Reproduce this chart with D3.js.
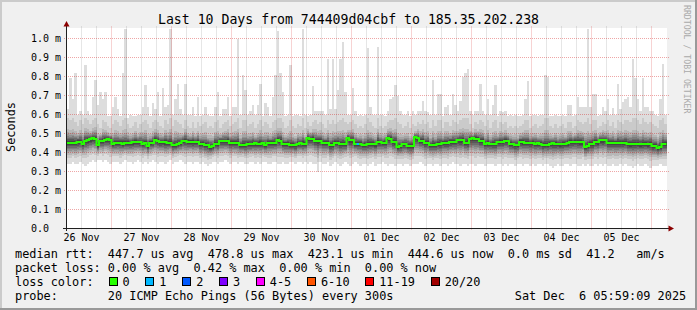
<!DOCTYPE html>
<html lang="en">
<head>
<meta charset="utf-8">
<title>SmokePing: Last 10 Days</title>
<script src="https://d3js.org/d3.v7.min.js"></script>
<style>
  body { margin: 0; background: #f0f0f0; }
  svg { display: block; font-family: "DejaVu Sans Mono", monospace; }
  text { white-space: pre; }
</style>
</head>
<body>
<div id="chart"></div>
<script>
// graph window and hourly buckets (UTC), rtt values in ms
var startTime = Date.UTC(2025, 10, 26, 5, 59, 9);
var endTime = Date.UTC(2025, 11, 6, 5, 59, 9);
var firstBucket = Date.UTC(2025, 10, 26, 6, 0, 0);
var HOUR = 3600e3;

// slowest ping of each bucket (the tall light spikes)
var maxRtt = [
  0.63,0.79,0.68,0.82,0.60,0.62,0.60,0.86,0.62,0.60,
  0.69,0.78,0.65,0.72,0.68,0.72,0.59,0.59,0.64,0.69,
  0.63,0.59,0.82,1.05,0.58,0.60,0.59,0.59,0.60,0.60,
  0.64,0.755,0.64,0.59,0.66,0.63,0.72,0.59,0.74,0.64,
  0.65,1.05,0.60,0.68,0.76,0.63,0.60,0.76,0.60,0.60,
  0.64,0.59,0.69,0.59,0.60,0.64,0.60,0.59,0.59,0.64,
  0.72,0.59,0.63,0.63,0.69,0.59,0.64,0.64,1.0,0.60,
  0.81,0.73,0.60,0.62,0.65,0.60,0.65,0.76,0.59,0.66,
  0.64,0.59,0.69,0.81,1.04,0.82,0.72,0.59,0.60,0.86,
  0.59,0.60,0.60,0.59,1.05,0.60,0.59,0.60,0.75,0.62,
  0.62,0.62,0.62,0.60,0.89,0.63,0.89,0.63,0.73,0.89,
  0.98,0.72,0.60,0.60,0.74,0.62,0.59,0.60,0.59,0.60,
  0.95,0.64,0.60,0.60,0.955,0.60,0.60,0.59,0.62,0.68,
  0.69,0.755,0.70,0.62,0.60,0.60,0.62,0.59,0.62,0.60,
  0.62,0.62,0.67,0.62,0.615,0.60,0.78,0.60,0.71,0.71,
  0.59,0.64,0.65,0.60,0.71,0.65,0.62,0.67,0.80,0.82,
  0.84,0.62,0.60,0.62,0.62,0.76,0.62,0.60,0.68,0.60,
  0.65,0.755,0.59,0.62,0.615,0.62,0.59,0.60,0.59,0.60,
  0.59,0.59,0.60,0.68,0.775,0.59,0.60,0.60,0.59,0.60,
  0.60,0.81,0.80,0.59,0.59,0.60,0.59,0.59,0.60,0.59,
  0.65,0.65,0.59,0.60,0.69,0.64,0.64,0.64,1.05,0.64,
  0.71,0.71,0.59,0.60,0.64,0.62,0.68,0.60,0.635,0.60,
  0.76,0.63,0.665,0.68,0.69,0.64,0.89,0.79,0.68,0.62,
  0.79,0.64,0.64,0.62,0.62,0.60,0.59,0.68,0.865,0.60
];

// second slowest ping (top of the dense smoke)
var hiRtt = [
  0.58,0.57,0.58,0.56,0.54,0.57,0.55,0.58,0.57,0.55,
  0.57,0.58,0.55,0.53,0.57,0.56,0.54,0.53,0.55,0.57,
  0.56,0.54,0.57,0.58,0.55,0.53,0.54,0.56,0.53,0.55,
  0.56,0.57,0.55,0.53,0.56,0.57,0.56,0.54,0.53,0.57,
  0.55,0.58,0.54,0.57,0.56,0.55,0.53,0.57,0.54,0.53,
  0.56,0.53,0.56,0.54,0.55,0.56,0.53,0.54,0.53,0.56,
  0.57,0.53,0.55,0.56,0.57,0.54,0.55,0.56,0.58,0.53,
  0.57,0.57,0.54,0.55,0.56,0.53,0.55,0.57,0.54,0.56,
  0.55,0.53,0.56,0.57,0.58,0.58,0.56,0.53,0.54,0.57,
  0.54,0.53,0.55,0.54,0.58,0.53,0.56,0.54,0.56,0.57,
  0.55,0.56,0.55,0.53,0.57,0.55,0.57,0.55,0.56,0.57,
  0.58,0.56,0.55,0.56,0.57,0.55,0.53,0.54,0.53,0.55,
  0.58,0.56,0.54,0.53,0.58,0.54,0.53,0.54,0.56,0.57,
  0.57,0.58,0.56,0.55,0.53,0.54,0.56,0.53,0.55,0.54,
  0.56,0.55,0.57,0.55,0.56,0.53,0.57,0.54,0.57,0.57,
  0.53,0.56,0.56,0.54,0.57,0.56,0.55,0.57,0.58,0.58,
  0.58,0.55,0.53,0.56,0.55,0.57,0.56,0.54,0.57,0.53,
  0.56,0.57,0.53,0.56,0.55,0.56,0.53,0.54,0.53,0.54,
  0.53,0.54,0.55,0.57,0.57,0.53,0.54,0.55,0.53,0.54,
  0.55,0.58,0.58,0.54,0.53,0.55,0.53,0.54,0.55,0.53,
  0.56,0.56,0.53,0.54,0.57,0.56,0.55,0.56,0.58,0.55,
  0.57,0.57,0.53,0.54,0.56,0.55,0.57,0.54,0.56,0.53,
  0.57,0.56,0.55,0.57,0.57,0.56,0.58,0.58,0.57,0.55,
  0.58,0.56,0.55,0.56,0.55,0.54,0.53,0.57,0.58,0.55
];

var medianRtt = [
  0.451,0.452,0.450,0.451,0.456,0.455,0.444,0.462,0.465,0.470,
  0.474,0.472,0.438,0.461,0.462,0.468,0.470,0.468,0.447,0.449,
  0.451,0.452,0.447,0.448,0.451,0.450,0.454,0.455,0.453,0.454,
  0.447,0.448,0.434,0.451,0.452,0.465,0.463,0.454,0.455,0.453,
  0.451,0.450,0.438,0.440,0.447,0.448,0.461,0.462,0.456,0.457,
  0.455,0.456,0.457,0.444,0.445,0.438,0.439,0.430,0.432,0.447,
  0.446,0.459,0.460,0.458,0.459,0.451,0.452,0.450,0.451,0.438,
  0.440,0.439,0.444,0.443,0.447,0.448,0.446,0.447,0.448,0.438,
  0.451,0.452,0.450,0.451,0.465,0.463,0.444,0.445,0.444,0.438,
  0.440,0.437,0.447,0.448,0.446,0.447,0.474,0.472,0.473,0.461,
  0.462,0.460,0.451,0.452,0.450,0.438,0.439,0.451,0.452,0.444,
  0.445,0.443,0.474,0.465,0.464,0.447,0.446,0.447,0.438,0.439,
  0.444,0.445,0.444,0.443,0.456,0.455,0.451,0.452,0.474,0.472,
  0.456,0.455,0.430,0.432,0.444,0.443,0.433,0.434,0.433,0.479,
  0.476,0.461,0.462,0.451,0.452,0.438,0.440,0.439,0.444,0.445,
  0.451,0.450,0.452,0.456,0.455,0.457,0.465,0.464,0.466,0.451,
  0.452,0.472,0.474,0.473,0.472,0.461,0.462,0.447,0.448,0.444,
  0.443,0.445,0.456,0.455,0.457,0.461,0.462,0.444,0.443,0.438,
  0.439,0.456,0.455,0.451,0.452,0.450,0.451,0.447,0.448,0.446,
  0.438,0.440,0.439,0.447,0.448,0.446,0.444,0.443,0.445,0.447,
  0.448,0.456,0.455,0.457,0.456,0.455,0.454,0.430,0.432,0.444,
  0.445,0.456,0.455,0.465,0.464,0.466,0.451,0.452,0.450,0.451,
  0.452,0.450,0.451,0.452,0.444,0.443,0.445,0.444,0.445,0.443,
  0.444,0.444,0.443,0.445,0.433,0.434,0.423,0.428,0.444,0.4446
];

// fastest ping (bottom of the smoke)
var minRtt = [
  0.34,0.34,0.35,0.34,0.34,0.35,0.34,0.33,0.34,0.35,
  0.36,0.35,0.36,0.36,0.35,0.36,0.35,0.34,0.35,0.35,
  0.35,0.34,0.35,0.36,0.35,0.35,0.34,0.35,0.36,0.35,
  0.34,0.35,0.34,0.35,0.36,0.35,0.34,0.35,0.35,0.34,
  0.35,0.36,0.34,0.35,0.35,0.36,0.35,0.34,0.35,0.35,
  0.34,0.35,0.35,0.34,0.35,0.34,0.33,0.34,0.35,0.35,
  0.34,0.35,0.35,0.36,0.35,0.34,0.35,0.35,0.34,0.35,
  0.35,0.34,0.34,0.35,0.35,0.34,0.35,0.34,0.35,0.35,
  0.34,0.34,0.35,0.35,0.34,0.34,0.35,0.34,0.34,0.35,
  0.35,0.34,0.35,0.35,0.34,0.35,0.34,0.35,0.34,0.34,
  0.30,0.35,0.34,0.34,0.35,0.33,0.34,0.35,0.34,0.33,
  0.34,0.35,0.34,0.33,0.34,0.35,0.34,0.33,0.34,0.34,
  0.33,0.34,0.35,0.33,0.34,0.34,0.35,0.34,0.33,0.34,
  0.34,0.33,0.34,0.34,0.33,0.34,0.34,0.33,0.34,0.34,
  0.34,0.35,0.34,0.33,0.34,0.34,0.33,0.34,0.34,0.33,
  0.34,0.34,0.33,0.34,0.35,0.34,0.34,0.33,0.34,0.34,
  0.33,0.34,0.34,0.33,0.34,0.34,0.34,0.33,0.34,0.34,
  0.34,0.33,0.34,0.34,0.33,0.34,0.33,0.34,0.34,0.33,
  0.34,0.34,0.33,0.34,0.34,0.33,0.34,0.33,0.34,0.34,
  0.33,0.34,0.34,0.33,0.32,0.33,0.34,0.33,0.33,0.34,
  0.34,0.33,0.34,0.34,0.33,0.33,0.34,0.33,0.34,0.33,
  0.33,0.34,0.33,0.34,0.33,0.34,0.33,0.33,0.34,0.33,
  0.33,0.34,0.33,0.34,0.33,0.33,0.32,0.33,0.34,0.33,
  0.33,0.34,0.33,0.32,0.33,0.33,0.33,0.34,0.33,0.33
];

// buckets where one ping was lost
var lossBuckets = [116];

var yTicks = [0, 0.1, 0.2, 0.3, 0.4, 0.5, 0.6, 0.7, 0.8, 0.9, 1.0];
var yTickLabels = ["0.0  ", "0.1 m", "0.2 m", "0.3 m", "0.4 m", "0.5 m", "0.6 m", "0.7 m", "0.8 m", "0.9 m", "1.0 m"];
var dayLabels = ["26 Nov", "27 Nov", "28 Nov", "29 Nov", "30 Nov", "01 Dec", "02 Dec", "03 Dec", "04 Dec", "05 Dec"];

var lossLabels = ["0", "1", "2", "3", "4-5", "6-10", "11-19", "20/20"];
var lossColors = ["#26ff00", "#00b8ff", "#0059ff", "#7e00ff", "#ff00ff", "#ff5500", "#ff0000", "#a10000"];

var legendLines = [
  "median rtt:  447.7 us avg  478.8 us max  423.1 us min  444.6 us now  0.0 ms sd  41.2   am/s",
  "packet loss: 0.00 % avg  0.42 % max  0.00 % min  0.00 % now",
  "loss color:",
  "probe:       20 ICMP Echo Pings (56 Bytes) every 300s".padEnd(70) + "Sat Dec  6 05:59:09 2025"
];

var W = 697, H = 310;
var svg = d3.select("#chart").append("svg")
    .attr("width", W)
    .attr("height", H);

var x = d3.scaleUtc().domain([startTime, endTime]).range([66.5, 666.5]);
var y = d3.scaleLinear().domain([0, 200 / 190]).range([228.5, 28.5]);

// background and frame
svg.append("rect").attr("width", W).attr("height", H).attr("fill", "#f0f0f0");
svg.append("rect").attr("width", W).attr("height", 2).attr("fill", "#cbcbcb");
svg.append("rect").attr("width", 2).attr("height", H).attr("fill", "#cbcbcb");
svg.append("rect").attr("x", W - 2).attr("width", 2).attr("height", H).attr("fill", "#999");
svg.append("rect").attr("y", H - 2).attr("width", W).attr("height", 2).attr("fill", "#999");

svg.append("rect").attr("x", 67).attr("y", 28).attr("width", 600).attr("height", 200).attr("fill", "#fff");

svg.append("clipPath").attr("id", "plot")
  .append("rect").attr("x", 67).attr("y", 28).attr("width", 600).attr("height", 200);

// smoke: pairs of pings around the median, lighter further out
var upFrac = [1, 1, 0.56, 0.43, 0.34, 0.27, 0.21, 0.15, 0.09, 0.035];
var downFrac = [1, 0.70, 0.56, 0.46, 0.38, 0.31, 0.24, 0.17, 0.105, 0.04];

var layers = [];
medianRtt.forEach(function(m, j) {
  var hi = Math.min(hiRtt[j], maxRtt[j]);
  for (var k = 0; k < 10; k++) {
    var top = k === 0 ? maxRtt[j] : m + (hi - m) * upFrac[k];
    var bot = m - (m - minRtt[j]) * downFrac[k];
    layers.push({ j: j, k: k, top: top, bot: bot });
  }
});

function bucketStart(j) { return firstBucket + j * HOUR; }

svg.append("g")
    .attr("clip-path", "url(#plot)")
  .selectAll("rect")
  .data(layers)
  .join("rect")
    .attr("x", function(d) { return x(bucketStart(d.j)); })
    .attr("width", function(d) { return x(bucketStart(d.j) + HOUR) - x(bucketStart(d.j)); })
    .attr("y", function(d) { return y(d.top); })
    .attr("height", function(d) { return y(d.bot) - y(d.top); })
    .attr("shape-rendering", "crispEdges")
    .attr("fill", function(d) {
      var g = Math.floor(190 / 10 * (10 - (d.k + 1))) + 50;
      return d3.rgb(g, g, g).formatHex();
    });

// grid
var grid = svg.append("g").attr("stroke-dasharray", "1,1").attr("fill", "none");
var gridTimes = d3.utcHour.every(6).range(startTime, endTime)
    .filter(function(t) { return x(t) > 68; });

grid.selectAll("line.v")
  .data(gridTimes)
  .join("line")
    .attr("x1", function(t) { return Math.floor(x(t)) + 0.5; })
    .attr("x2", function(t) { return Math.floor(x(t)) + 0.5; })
    .attr("y1", 26.5)
    .attr("y2", 230.5)
    .attr("stroke", function(t) {
      return t.getUTCHours() === 0 ? "rgba(210,20,20,0.38)" : "rgba(110,110,110,0.35)";
    });

grid.selectAll("line.h")
  .data(yTicks.slice(1))
  .join("line")
    .attr("x1", 64)
    .attr("x2", 669)
    .attr("y1", function(v) { return y(v); })
    .attr("y2", function(v) { return y(v); })
    .attr("stroke", "rgba(210,20,20,0.38)");

// median line coloured by loss
var medPts = medianRtt.map(function(m, j) { return [bucketStart(j), m]; });
medPts.push([bucketStart(medianRtt.length), medianRtt[medianRtt.length - 1]]);

var line = d3.line()
    .curve(d3.curveStepAfter)
    .x(function(d) { return x(d[0]); })
    .y(function(d) { return Math.round(y(d[1])); });

var plotG = svg.append("g").attr("clip-path", "url(#plot)");
plotG.append("path")
    .datum(medPts)
    .attr("d", line)
    .attr("fill", "none")
    .attr("stroke", lossColors[0])
    .attr("stroke-width", 2);

plotG.selectAll("line.loss")
  .data(lossBuckets)
  .join("line")
    .attr("x1", function(j) { return x(bucketStart(j)); })
    .attr("x2", function(j) { return x(bucketStart(j) + HOUR); })
    .attr("y1", function(j) { return Math.round(y(medianRtt[j])); })
    .attr("y2", function(j) { return Math.round(y(medianRtt[j])); })
    .attr("stroke", lossColors[1])
    .attr("stroke-width", 2);

// axes
var axisCol = "#202020", arrowCol = "#8b0000";
svg.append("line").attr("x1", 63).attr("x2", 669).attr("y1", 228.5).attr("y2", 228.5).attr("stroke", axisCol);
svg.append("line").attr("x1", 66.5).attr("x2", 66.5).attr("y1", 231).attr("y2", 25).attr("stroke", axisCol);
svg.append("path").attr("d", "M668.5,225.5L674,228.5L668.5,231.5Z").attr("fill", arrowCol);
svg.append("path").attr("d", "M63.5,26.5L66.5,21L69.5,26.5Z").attr("fill", arrowCol);

// tick labels
svg.append("g").selectAll("text")
  .data(yTicks)
  .join("text")
    .attr("x", 61)
    .attr("y", function(v) { return y(v) + 3.5; })
    .attr("text-anchor", "end")
    .attr("xml:space", "preserve")
    .attr("font-size", "10px")
    .attr("fill", "#000")
    .text(function(v, i) { return yTickLabels[i]; });

svg.append("g").selectAll("text")
  .data(dayLabels)
  .join("text")
    .attr("x", function(s, i) { return x(Date.UTC(2025, 10, 26 + i, 12)); })
    .attr("y", 241)
    .attr("text-anchor", "middle")
    .attr("font-size", "10px")
    .attr("fill", "#000")
    .text(function(s) { return s; });

// title, axis label, watermark
svg.append("text")
    .attr("x", W / 2)
    .attr("y", 24)
    .attr("text-anchor", "middle")
    .attr("font-size", "13.2px")
    .text("Last 10 Days from 744409d04cbf to 185.35.202.238");

svg.append("text")
    .attr("transform", "translate(15,127) rotate(-90)")
    .attr("text-anchor", "middle")
    .attr("font-size", "11.86px")
    .text("Seconds");

svg.append("text")
    .attr("transform", "translate(684,5) rotate(90)")
    .attr("font-size", "8.2px")
    .attr("fill", "#aaaaaa")
    .text("RRDTOOL / TOBI OETIKER");

// legend
var ch = 0.602 * 11.86;
svg.append("g").selectAll("text")
  .data(legendLines)
  .join("text")
    .attr("x", 15)
    .attr("y", function(s, i) { return 258 + i * 14; })
    .attr("xml:space", "preserve")
    .attr("font-size", "11.86px")
    .text(function(s) { return s; });

var cursor = 108.5;
var swatches = lossLabels.map(function(lbl, i) {
  var pos = cursor;
  cursor += lbl.length * ch + 29.7;
  return { x: pos, label: lbl, color: lossColors[i] };
});

var sw = svg.append("g");
sw.selectAll("rect")
  .data(swatches)
  .join("rect")
    .attr("x", function(d) { return Math.round(d.x) + 0.5; })
    .attr("y", 277.5)
    .attr("width", 8)
    .attr("height", 8)
    .attr("fill", function(d) { return d.color; })
    .attr("stroke", "#000");
sw.selectAll("text")
  .data(swatches)
  .join("text")
    .attr("x", function(d) { return d.x + 14; })
    .attr("y", 286)
    .attr("font-size", "11.86px")
    .text(function(d) { return d.label; });
</script>
</body>
</html>
